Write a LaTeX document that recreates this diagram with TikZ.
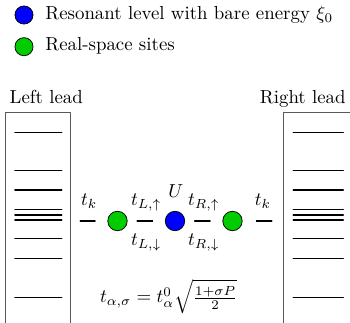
\documentclass[tikz,border=0pt]{standalone}
\usepackage{amsmath}
\usepackage{amssymb}

\begin{document}
\begin{tikzpicture}[x=0.53pt,y=-0.53pt,line cap=round,line join=round,
  site/.style={circle,draw,line width=0.4pt,minimum size=10.3pt,inner sep=0pt},
  key/.style={circle,draw,line width=0.4pt,minimum size=9.6pt,inner sep=0pt},
  keytext/.style={anchor=base west,inner sep=0pt},
  lead/.style={draw=black!65,line width=0.5pt},
  level/.style={line width=0.8pt},
  bond/.style={line width=0.55pt,shorten <=5pt,shorten >=6.5pt},
  lblup/.style={anchor=base,yshift=8pt},
  lbldown/.style={anchor=base,yshift=-13.1pt}]
  \useasboundingbox (0,0) rectangle (350,323);
  \clip (0,0) rectangle (350,323);
  \node[key,fill=blue] (kdot) at (24,15) {};
  \node[keytext] (tdot) at (45,19.3) {Resonant level with bare energy $\xi_0$};
  \node[key,fill=green!80!black] (ksite) at (24,46.7) {};
  \node[keytext] (tsite) at (45,50.7) {Real-space sites};
  \draw[lead] (5.5,340) -- (5.5,112.7) -- (70.7,112.7) -- (70.7,340);
  \draw[lead] (283.3,340) -- (283.3,112.7) -- (353.3,112.7) -- (353.3,340);
  \node[anchor=base] (lleft) at (46.3,103) {Left lead};
  \node[anchor=base] (lright) at (302.8,103) {Right lead};
  \foreach \e in {132.3,170.7,190,209.7,215,220,238.7,258.3,297.3} {
    \draw[level] (15,\e) -- (61.7,\e);
    \draw[level] (293.3,\e) -- (343.3,\e);
  }
  \coordinate (Lin) at (70.7,221);
  \coordinate (Rin) at (283.3,221);
  \node[site,fill=green!80!black] (sL) at (117.5,221) {};
  \node[site,fill=blue] (dot) at (175,221) {};
  \node[site,fill=green!80!black] (sR) at (232.5,221) {};
  \node[anchor=base] (U) at (175.8,198) {$U$};
  \draw[bond] (Lin) -- node[lblup] {$t_k$} (sL);
  \draw[bond] (sL) -- node[lblup] {$t_{L,\uparrow}$} node[lbldown] {$t_{L,\downarrow}$} (dot);
  \draw[bond] (dot) -- node[lblup] {$t_{R,\uparrow}$} node[lbldown] {$t_{R,\downarrow}$} (sR);
  \draw[bond,shorten <=7.3pt,shorten >=6pt] (sR) -- node[lblup] {$t_k$} (Rin);
  \node[anchor=base] (rule) at (168.8,303) {$t_{\alpha,\sigma}=t_\alpha^0\sqrt{\frac{1+\sigma P}{2}}$};
\end{tikzpicture}
\end{document}
